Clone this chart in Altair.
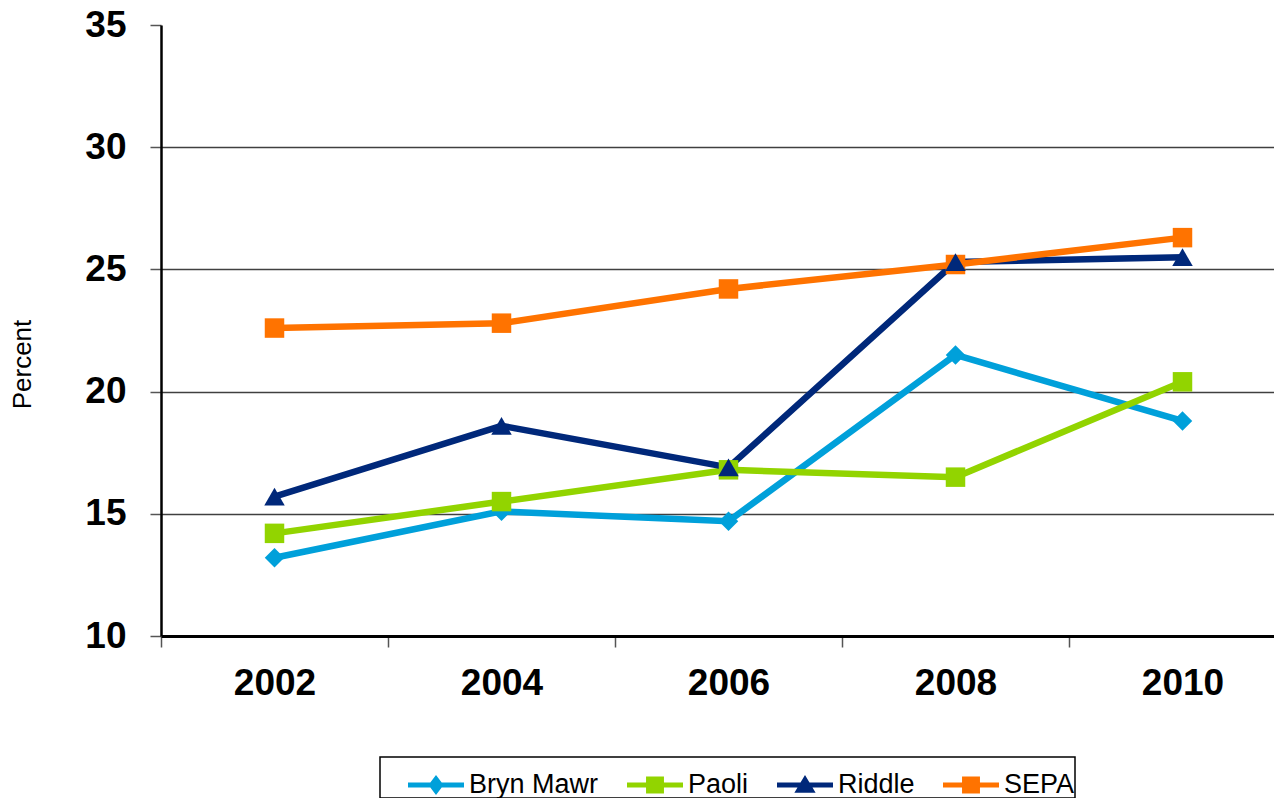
import altair as alt
import pandas as pd

years = ["2002", "2004", "2006", "2008", "2010"]
series_names = ["Bryn Mawr", "Paoli", "Riddle", "SEPA"]
bryn_mawr = [13.2, 15.1, 14.7, 21.5, 18.8]
paoli = [14.2, 15.5, 16.8, 16.5, 20.4]
riddle = [15.7, 18.6, 16.9, 25.3, 25.5]
sepa = [22.6, 22.8, 24.2, 25.2, 26.3]
colors = ["#00A0DA", "#92D400", "#00287A", "#FF7300"]
marker_shapes = ["diamond", "square", "triangle-up", "square"]
y_ticks = [10, 15, 20, 25, 30, 35]

rows = []
for name, vals in zip(series_names, [bryn_mawr, paoli, riddle, sepa]):
    for yr, v in zip(years, vals):
        rows.append({"Year": yr, "Series": name, "Percent": v})
df = pd.DataFrame(rows)

# legend symbols: a line segment with the series marker on it (unit coordinates)
line_path = "M-1,-0.09H1V0.09H-1Z"
legend_marker = {
    "diamond": "M0,-0.36L0.27,0L0,0.36L-0.27,0Z",
    "square": "M-0.32,-0.3H0.32V0.3H-0.32Z",
    "triangle-up": "M0,-0.36L0.38,0.28H-0.38Z",
}
legend_shapes = [line_path + " " + legend_marker[s] for s in marker_shapes]

FONT = "Liberation Sans"

legend_kw = dict(
    title=None,
    orient="none",
    legendX=219,
    legendY=732,
    direction="horizontal",
    strokeColor="black",
    fillColor="white",
    padding=0,
    symbolSize=3136,
    symbolStrokeWidth=0,
    symbolOpacity=1,
    symbolOffset=28,
    labelOffset=5,
    columnPadding=0,
    labelFont=FONT,
    labelFontSize=27,
    labelColor="black",
)

color_scale = alt.Scale(domain=series_names, range=colors)
color = alt.Color("Series:N", scale=color_scale, legend=alt.Legend(**legend_kw))

x = alt.X(
    "Year:O",
    scale=alt.Scale(type="band", domain=years, range=[0, 1135], paddingInner=0, paddingOuter=0),
    bandPosition=0.5,
    axis=alt.Axis(
        title=None,
        labelFont=FONT,
        labelFontWeight="bold",
        labelFontSize=37,
        labelColor="black",
        labelAngle=0,
        labelPadding=18,
        tickSize=11,
        tickColor="#555555",
        tickWidth=1.5,
        tickBand="extent",
        domainColor="black",
        domainWidth=3,
        grid=False,
    ),
)

y = alt.Y(
    "Percent:Q",
    scale=alt.Scale(domain=[10, 35], nice=False, zero=False),
    axis=alt.Axis(
        values=y_ticks,
        title="Percent",
        titleFont=FONT,
        titleFontSize=26,
        titleFontWeight="normal",
        titleColor="black",
        titleAngle=270,
        titleX=-131,
        titleY=339,
        titleAlign="center",
        titleBaseline="alphabetic",
        labelFont=FONT,
        labelFontWeight="bold",
        labelFontSize=37,
        labelColor="black",
        labelPadding=24,
        tickSize=11,
        tickColor="#555555",
        tickWidth=1.5,
        domainColor="black",
        domainWidth=2.5,
        grid=True,
        gridColor="#404040",
        gridWidth=1.6,
        gridOpacity={"condition": {"test": "datum.value >= 35", "value": 0}, "value": 1},
    ),
)

base = alt.Chart(df)

# invisible layer that carries the legend (line + marker symbols); first so its legend style wins
legend_layer = base.mark_point(filled=True, opacity=0).encode(
    x=x,
    y=y,
    color=color,
    shape=alt.Shape("Series:N", scale=alt.Scale(domain=series_names, range=legend_shapes),
                    legend=alt.Legend(**legend_kw)),
)

lines = base.mark_line(strokeWidth=6.5).encode(x=x, y=y, color=color)

marker_layers = []
for shape in ["diamond", "square", "triangle-up"]:
    names = [n for n, s in zip(series_names, marker_shapes) if s == shape]
    size = 420 if shape == "triangle-up" else 380
    marker_layers.append(
        base.transform_filter(alt.FieldOneOfPredicate(field="Series", oneOf=names))
        .mark_point(shape=shape, filled=True, opacity=1, size=size)
        .encode(x=x, y=y, color=color)
    )

chart = (
    alt.layer(legend_layer, lines, *marker_layers)
    .properties(
        width=1113,
        height=611,
        padding={"left": 153, "top": 17, "right": 0, "bottom": 162},
        autosize=alt.AutoSizeParams(type="none"),
        background="white",
    )
    .configure_view(stroke=None)
    .configure_legend(strokeWidth=1.5)
)

chart.save("out.html", embed_options={"renderer": "svg", "actions": False})
